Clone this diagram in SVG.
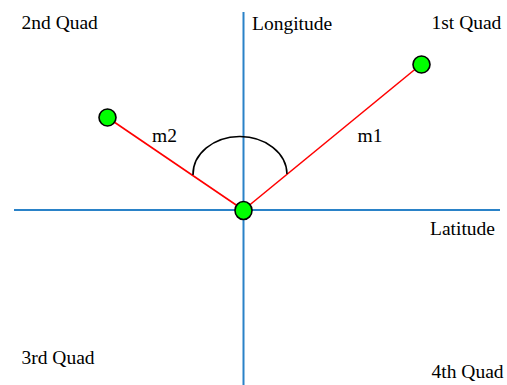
<svg xmlns="http://www.w3.org/2000/svg" width="507" height="385" viewBox="0 0 507 385">
<style>
text{font-family:"Liberation Serif","Times New Roman",serif;font-size:19.5px;fill:#000}
.axis{stroke:#2a82c8;stroke-width:2;fill:none}
.ray{stroke:#ff0000;stroke-width:1.6;fill:none}
.pt{fill:#00ff00;stroke:#000;stroke-width:1.6}
</style>
<rect width="507" height="385" fill="#fff"/>
<g id="connectors">
<line class="axis" x1="243.5" y1="12" x2="243.5" y2="385"/>
<line class="axis" x1="14" y1="210" x2="500" y2="210"/>
<line class="ray" x1="107.5" y1="117.5" x2="243.5" y2="210"/>
<line class="ray" x1="243.5" y1="210" x2="421.5" y2="64"/>
<path d="M193,175 A47,38 0 0 1 287,174" fill="none" stroke="#000" stroke-width="1.6"/>
</g>
<g id="p2"><circle class="pt" cx="107.5" cy="117.5" r="8.5"/></g>
<g id="p1"><circle class="pt" cx="421.5" cy="64.5" r="8.5"/></g>
<g id="origin"><ellipse class="pt" cx="243.5" cy="210.5" rx="8.5" ry="9"/></g>
<g id="labels">
<text x="21.5" y="29">2nd Quad</text>
<text x="252" y="30">Longitude</text>
<text x="431.5" y="29">1st Quad</text>
<text x="152" y="142">m2</text>
<text x="357.5" y="142">m1</text>
<text x="430" y="235">Latitude</text>
<text x="21.5" y="364">3rd Quad</text>
<text x="431.5" y="378">4th Quad</text>
</g>
</svg>
